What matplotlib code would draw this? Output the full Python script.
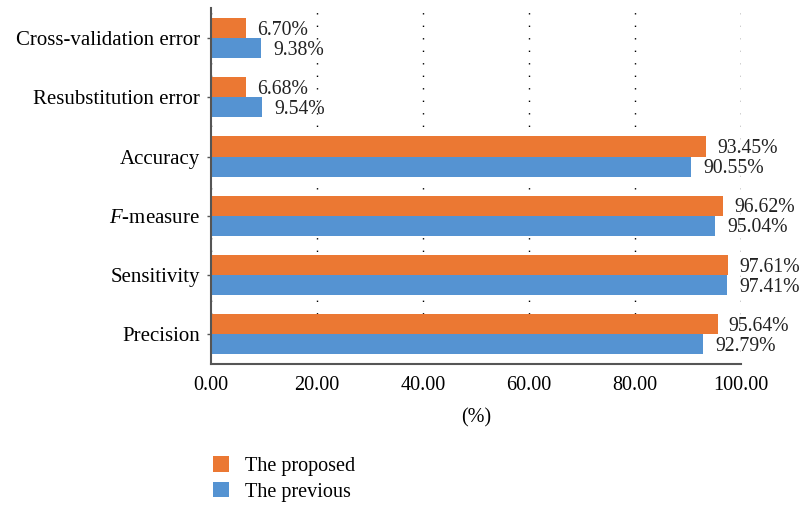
import matplotlib.pyplot as plt
import numpy as np

plt.rcParams['font.family'] = ['Liberation Serif', 'DejaVu Serif']
plt.rcParams['mathtext.fontset'] = 'custom'
plt.rcParams['mathtext.it'] = 'Liberation Serif:italic'
plt.rcParams['mathtext.rm'] = 'Liberation Serif'

# data (bottom to top)
categories = ['Precision', 'Sensitivity', r'$\it{F}$-measure', 'Accuracy',
              'Resubstitution error', 'Cross-validation error']
proposed = [95.64, 97.61, 96.62, 93.45, 6.68, 6.70]
previous = [92.79, 97.41, 95.04, 90.55, 9.54, 9.38]
xticks = [0, 20, 40, 60, 80, 100]

c_prop = '#EB7833'
c_prev = '#5593D2'

fig = plt.figure(figsize=(8.04, 5.08), dpi=100)
ax = fig.add_axes([0.2624, 0.2835, 0.659, 0.70])

y = np.arange(len(categories))
h = 0.34
ax.barh(y + h / 2, proposed, height=h, color=c_prop, label='The proposed', zorder=2)
ax.barh(y - h / 2, previous, height=h, color=c_prev, label='The previous', zorder=2)

for yi, v in zip(y, proposed):
    ax.annotate('%.2f%%' % v, (v, yi + h / 2), xytext=(8, -1.5), textcoords='offset points',
                ha='left', va='center', fontsize=14.2, color='#222222')
for yi, v in zip(y, previous):
    ax.annotate('%.2f%%' % v, (v, yi - h / 2), xytext=(9, -1.5), textcoords='offset points',
                ha='left', va='center', fontsize=14.2, color='#222222')

ax.set_xlim(0, 100)
ax.set_ylim(-0.5, len(categories) - 0.5)
ax.set_xticks(xticks)
ax.set_xticklabels(['%.2f' % t for t in xticks], fontsize=14.5)
ax.set_yticks(y)
ax.set_yticklabels(categories, fontsize=15)
ax.tick_params(axis='x', length=0, pad=9)
ax.tick_params(axis='y', length=3, width=1, color='#555555', pad=5)
ax.set_xlabel('(%)', fontsize=14.5, labelpad=9)

ax.grid(axis='x', linestyle=(0, (1, 8)), color='black', linewidth=1.0, zorder=0)
for s in ['top', 'right']:
    ax.spines[s].set_visible(False)
ax.spines['left'].set_color('#555555')
ax.spines['left'].set_linewidth(1.5)
ax.spines['bottom'].set_color('#555555')
ax.spines['bottom'].set_linewidth(1.5)

handles, labels = ax.get_legend_handles_labels()
fig.legend(handles, labels, loc='upper left', bbox_to_anchor=(0.255, 0.118),
           frameon=False, fontsize=14.5, handlelength=0.8, handleheight=0.8,
           handletextpad=0.8, labelspacing=0.3, borderaxespad=0)

fig.savefig('out.png', dpi=100)
